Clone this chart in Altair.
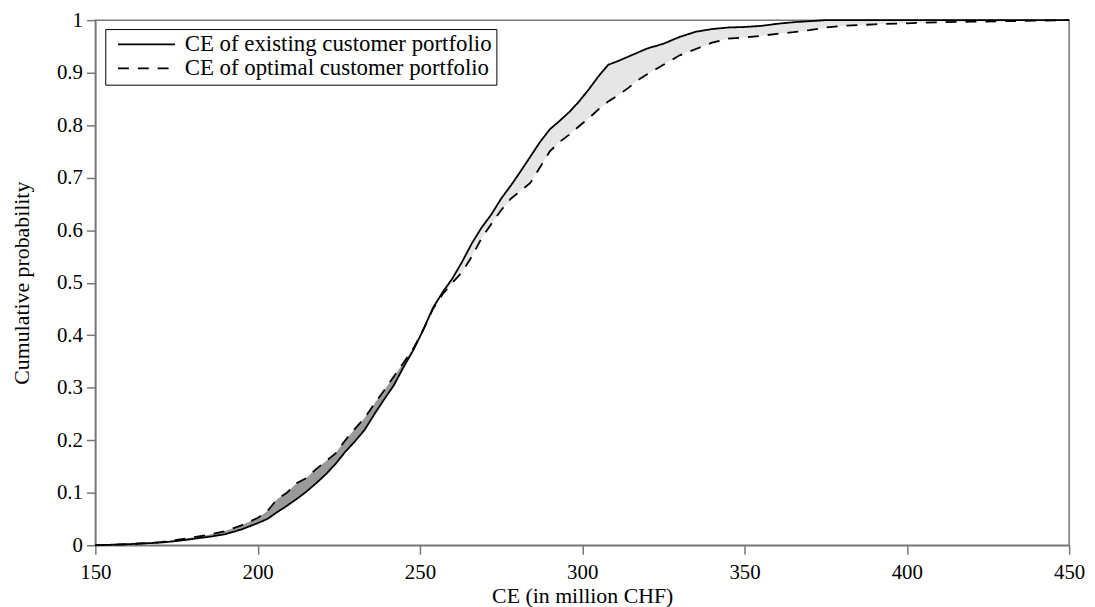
import altair as alt
import pandas as pd

x_vals = [150, 160, 170, 175, 180, 185, 190, 195, 200, 203, 206, 209, 212, 215, 218,
          221, 224, 227, 230, 233, 236, 239, 242, 245, 248, 251, 254, 257, 260, 263,
          266, 269, 272, 275, 278, 281, 284, 287, 290, 293, 296, 299, 302, 305, 308,
          311, 314, 317, 320, 325, 330, 335, 340, 345, 350, 355, 360, 365, 370, 375,
          380, 390, 400, 410, 420, 430, 440, 450]

existing = [0.000, 0.002, 0.005, 0.008, 0.012, 0.016, 0.021, 0.030, 0.042, 0.050, 0.063,
            0.075, 0.088, 0.102, 0.118, 0.135, 0.155, 0.178, 0.198, 0.220, 0.250, 0.278,
            0.305, 0.340, 0.372, 0.410, 0.452, 0.482, 0.508, 0.540, 0.575, 0.605, 0.630,
            0.660, 0.685, 0.712, 0.740, 0.768, 0.792, 0.808, 0.825, 0.845, 0.868, 0.893,
            0.915, 0.922, 0.930, 0.938, 0.946, 0.955, 0.968, 0.978, 0.983, 0.986, 0.987,
            0.989, 0.993, 0.996, 0.998, 1.000, 1.000, 1.000, 1.000, 1.000, 1.000, 1.000,
            1.000, 1.000]

optimal = [0.000, 0.002, 0.006, 0.010, 0.015, 0.020, 0.027, 0.038, 0.052, 0.065, 0.088,
           0.100, 0.118, 0.128, 0.145, 0.160, 0.175, 0.200, 0.222, 0.243, 0.270, 0.295,
           0.322, 0.348, 0.375, 0.410, 0.450, 0.478, 0.500, 0.520, 0.550, 0.585, 0.612,
           0.638, 0.660, 0.675, 0.690, 0.720, 0.750, 0.768, 0.782, 0.798, 0.813, 0.830,
           0.845, 0.857, 0.870, 0.885, 0.897, 0.915, 0.933, 0.945, 0.957, 0.965, 0.967,
           0.970, 0.974, 0.977, 0.981, 0.986, 0.989, 0.992, 0.994, 0.996, 0.997, 0.998,
           0.999, 1.000]

series_names = ["CE of existing customer portfolio", "CE of optimal customer portfolio"]
x_ticks = [150, 200, 250, 300, 350, 400, 450]
y_ticks = [0, 0.1, 0.2, 0.3, 0.4, 0.5, 0.6, 0.7, 0.8, 0.9, 1]

FONT = "Liberation Serif"
FS = 21
FS_T = 22
FS_L = 23

wide = pd.DataFrame({"x": x_vals, "s": existing, "d": optimal})
long = pd.concat([
    pd.DataFrame({"x": x_vals, "y": existing, "series": series_names[0]}),
    pd.DataFrame({"x": x_vals, "y": optimal, "series": series_names[1]}),
], ignore_index=True)

xscale = alt.Scale(domain=[150, 450], nice=False, zero=False)
yscale = alt.Scale(domain=[0, 1], nice=False)

xaxis = alt.Axis(values=x_ticks, title="CE (in million CHF)", grid=False,
                 labelFlush=False, titleY=58, titleBaseline="alphabetic")
yaxis = alt.Axis(values=y_ticks, title="Cumulative probability", grid=False,
                 labelExpr="format(datum.value, '.1~f')", titlePadding=23)

area_dark = alt.Chart(wide).transform_filter("datum.x <= 254").mark_area(
    color="#9a9a9a", interpolate="linear").encode(
    x=alt.X("x:Q", scale=xscale, axis=xaxis),
    y=alt.Y("s:Q", scale=yscale, axis=yaxis),
    y2="d:Q",
)
area_light = alt.Chart(wide).transform_filter("datum.x >= 254").mark_area(
    color="#e6e6e6", interpolate="linear").encode(
    x=alt.X("x:Q", scale=xscale),
    y=alt.Y("s:Q", scale=yscale),
    y2="d:Q",
)
lines = alt.Chart(long).mark_line(color="black", strokeWidth=1.8).encode(
    x=alt.X("x:Q", scale=xscale),
    y=alt.Y("y:Q", scale=yscale),
    strokeDash=alt.StrokeDash(
        "series:N",
        scale=alt.Scale(domain=series_names, range=[[1, 0], [11, 9]]),
        legend=alt.Legend(
            title=None, orient="none", legendX=10, legendY=9,
            strokeColor="black", fillColor="white", padding=4,
            symbolType="M-4.1,0H4.1", symbolSize=196, symbolStrokeWidth=1.8,
            symbolStrokeColor="black", symbolFillColor="transparent",
            symbolOffset=26, labelFont=FONT, labelFontSize=FS_L,
            labelColor="black", labelOffset=27, rowPadding=0, labelLimit=0,
        ),
    ),
)

chart = alt.layer(area_light, area_dark, lines).properties(
    width=981, height=529,
    autosize=alt.AutoSizeParams(type="none"),
    padding={"left": 88, "top": 10, "right": 18, "bottom": 64},
).configure_view(
    stroke="#777777", strokeWidth=1.5
).configure_axis(
    domainColor="#777777", domainWidth=1.5, tickColor="#777777", tickWidth=1.5,
    tickSize=9, labelFont=FONT, labelFontSize=FS, labelColor="black",
    titleFont=FONT, titleFontSize=FS_T, titleFontWeight="normal", titleColor="black",
).configure_axisX(labelPadding=8).configure_axisY(labelPadding=4)

chart.save("out.html", embed_options={"renderer": "svg", "actions": False})
